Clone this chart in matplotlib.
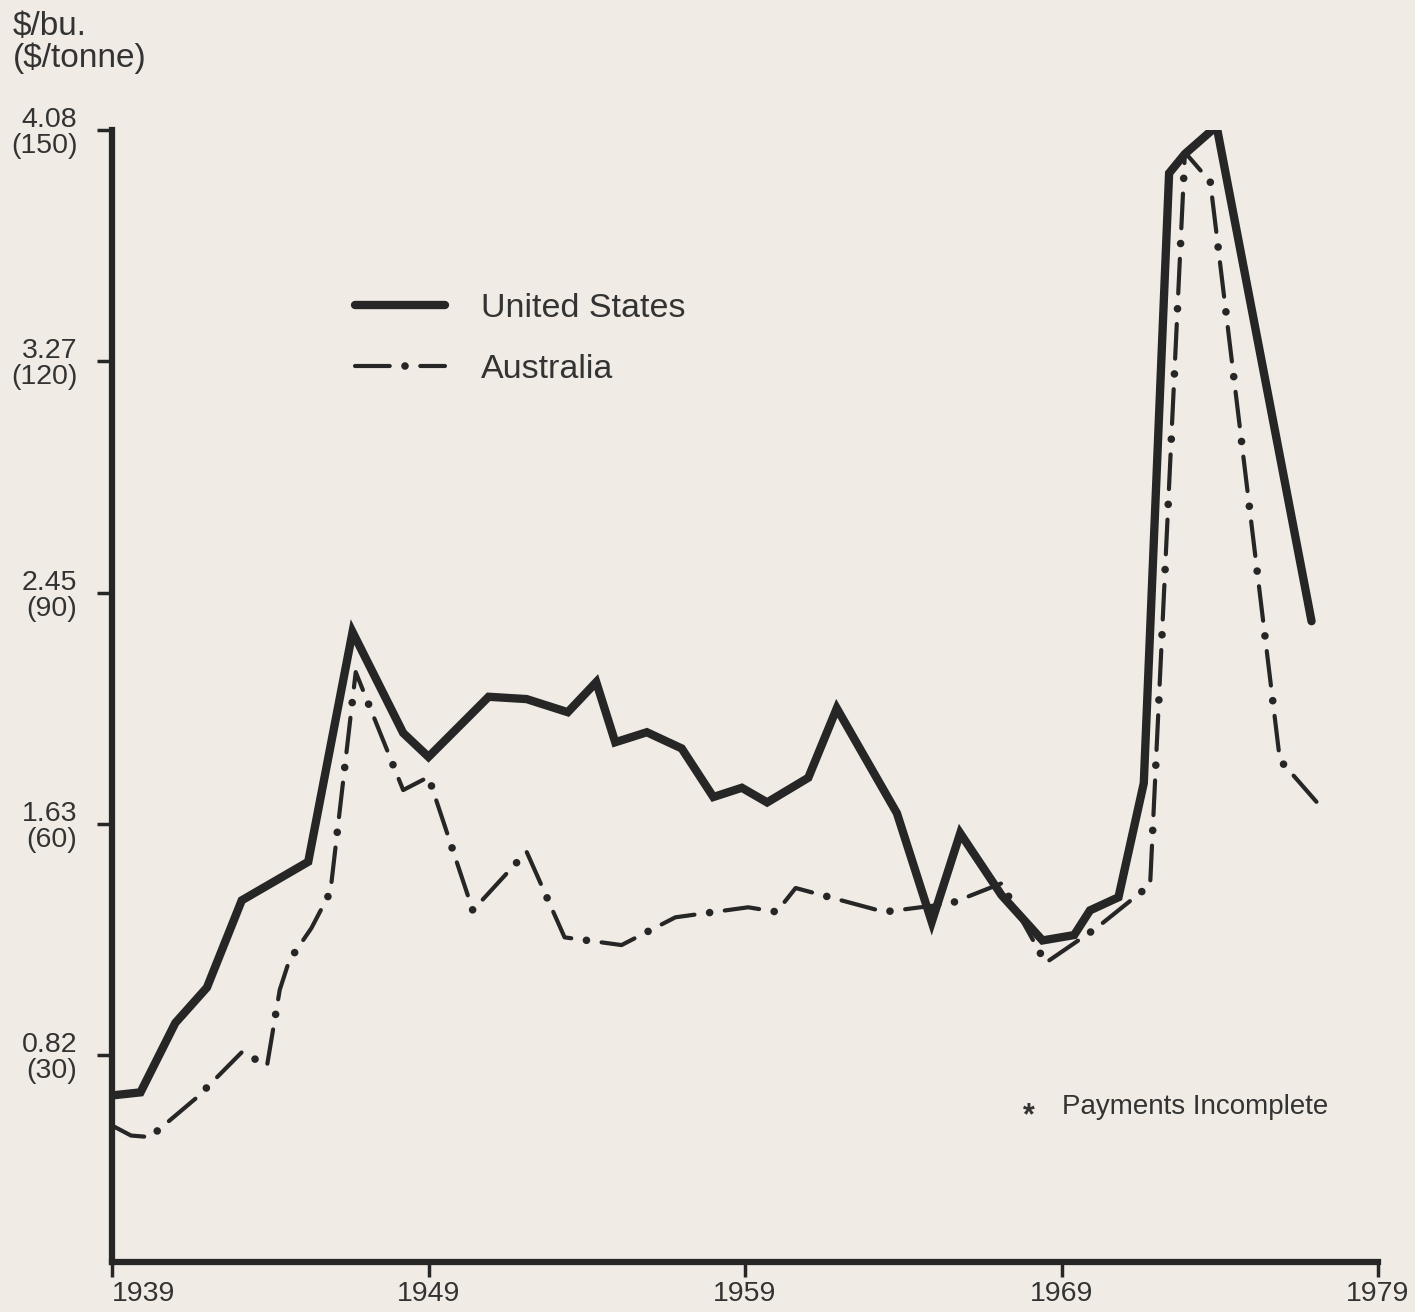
import matplotlib.pyplot as plt
from matplotlib.legend_handler import HandlerTuple

# wheat price, $/tonne (x = crop year)
us_years = [1939.0, 1939.9, 1941.0, 1942.0, 1943.1, 1945.2, 1946.6, 1948.2, 1949.0,
            1950.9, 1952.1, 1953.4, 1954.3, 1954.9, 1955.9, 1957.0, 1958.0, 1958.9,
            1959.7, 1961.0, 1961.9, 1963.8, 1964.9, 1965.8, 1967.1, 1968.4, 1969.4,
            1969.9, 1970.8, 1971.6, 1972.4, 1972.9, 1973.9, 1976.9]
us_price = [24.8, 25.2, 34.2, 38.8, 50.1, 55.1, 84.9, 71.8, 68.7,
            76.5, 76.2, 74.5, 78.4, 70.6, 71.9, 69.8, 63.5, 64.7,
            62.8, 66.0, 75.0, 61.4, 47.3, 58.8, 50.8, 44.9, 45.6,
            48.8, 50.5, 65.3, 144.4, 146.9, 150.5, 86.3]

au_years = [1939.0, 1939.6, 1940.2, 1941.7, 1943.1, 1943.9, 1944.3, 1944.6, 1945.3,
            1945.9, 1946.7, 1948.2, 1949.0, 1950.4, 1952.1, 1953.3, 1955.1, 1956.8,
            1959.1, 1960.0, 1960.6, 1963.4, 1965.5, 1967.1, 1968.5, 1970.1, 1971.8,
            1972.9, 1973.7, 1975.9, 1977.2]
au_price = [20.9, 19.6, 19.4, 24.6, 30.4, 28.7, 38.5, 42.3, 46.5,
            51.2, 79.7, 64.4, 66.1, 48.8, 56.4, 45.3, 44.3, 47.9,
            49.2, 48.6, 51.7, 48.6, 49.7, 52.3, 42.0, 46.5, 52.1,
            147.1, 143.3, 68.3, 62.2]

year_ticks = [1939, 1949, 1959, 1969, 1979]
tonne_ticks = [150, 120, 90, 60, 30]
bushel_labels = ['4.08', '3.27', '2.45', '1.63', '0.82']

W, H = 1415, 1312
paper = '#f0ece5'
ink = '#262626'
text_ink = '#333333'
plt.rcParams['font.family'] = ['Liberation Sans', 'DejaVu Sans']
plt.rcParams['lines.scale_dashes'] = False  # dash lengths in points


def fx(px):
    return px / W


def fy(py):
    return 1 - py / H


fig = plt.figure(figsize=(W / 100, H / 100), dpi=100, facecolor=paper)
ax = fig.add_axes([fx(112), fy(1262), fx(1378) - fx(112), fy(130) - fy(1262)])
ax.set_facecolor(paper)

us_line, = ax.plot(us_years, us_price, color=ink, lw=6, solid_joinstyle='miter',
                   solid_capstyle='round')
# Australia: long dash + fat dot, drawn as two overlaid patterns with same period
au_dash, = ax.plot(au_years, au_price, color=ink, lw=3, dash_capstyle='round',
                   linestyle=(0, (25, 22)))
au_dot, = ax.plot(au_years, au_price, color=ink, lw=5.5, dash_capstyle='round',
                  linestyle=(11, (0.01, 46.99)))

ax.set_xlim(1939, 1979)
ax.set_ylim(3.2, 150)

for side in ['top', 'right']:
    ax.spines[side].set_visible(False)
for side in ['left', 'bottom']:
    ax.spines[side].set_linewidth(4.5)
    ax.spines[side].set_color(ink)
    ax.spines[side].set_capstyle('projecting')

ax.set_xticks(year_ticks)
ax.set_xticklabels([str(y) for y in year_ticks])
ax.set_yticks(tonne_ticks)
ax.set_yticklabels([f'{b}\n({t})' for b, t in zip(bushel_labels, tonne_ticks)],
                   linespacing=1.0, multialignment='right')
ax.tick_params(axis='both', direction='out', length=11, width=2.5, color=ink,
               labelsize=20.5, labelcolor=text_ink)
ax.tick_params(axis='y', pad=14)
ax.tick_params(axis='x', pad=3)
ax.get_xticklabels()[0].set_horizontalalignment('left')

fig.text(fx(13), fy(26), '$/bu.', fontsize=24, color=text_ink, ha='left', va='center')
fig.text(fx(13), fy(58), '($/tonne)', fontsize=24, color=text_ink, ha='left', va='center')

ax.legend([us_line, (au_dash, au_dot)], ['United States', 'Australia'],
          handler_map={tuple: HandlerTuple(ndivide=1, pad=0)},
          loc='center left', bbox_to_anchor=(fx(355), fy(339)),
          bbox_transform=fig.transFigure, frameon=False, fontsize=24.5,
          labelcolor=text_ink, handlelength=2.65, handletextpad=1.05,
          labelspacing=0.9, borderpad=0, borderaxespad=0)

fig.text(fx(1029), fy(1116), '*', fontsize=22, color=text_ink, ha='center', va='center',
         fontweight='bold')
fig.text(fx(1062), fy(1107), 'Payments Incomplete', fontsize=20, color=text_ink,
         ha='left', va='center')

fig.savefig('out.png', dpi=100, facecolor=paper)
